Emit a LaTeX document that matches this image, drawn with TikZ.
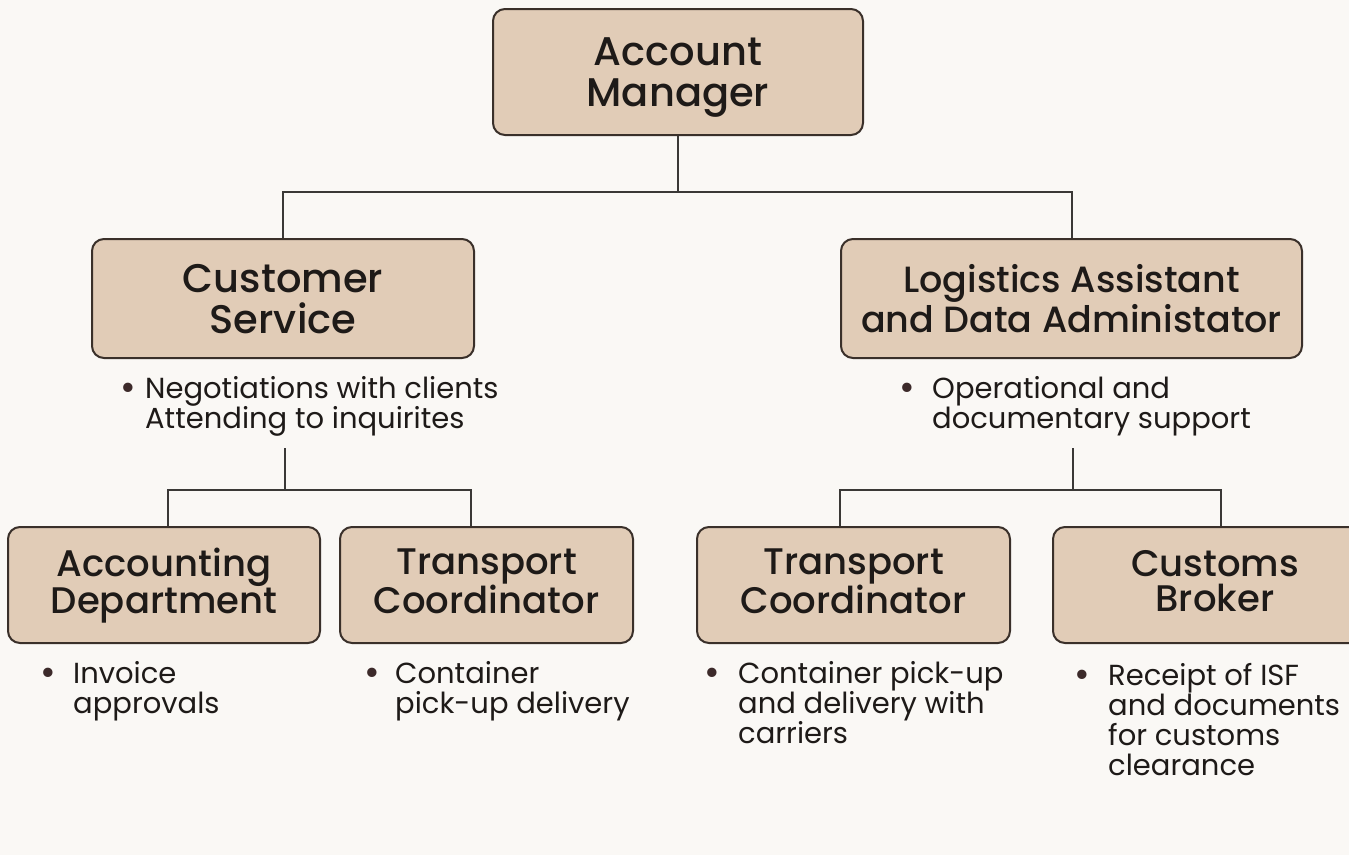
\documentclass[tikz,border=0pt]{standalone}
\usepackage{fontspec}
\setmainfont{Poppins}
\newfontfamily\headfont{Poppins}[UprightFont={* Medium}]
\definecolor{bgc}{RGB}{250,248,245}
\definecolor{boxfill}{RGB}{225,204,183}
\definecolor{boxline}{RGB}{58,48,42}
\definecolor{linkc}{RGB}{58,56,54}
\definecolor{ink}{RGB}{30,26,24}
\definecolor{dotc}{RGB}{60,42,42}
% bullet line: #1 = width of the bullet column, #2 = text
\newcommand\bulletdot{\raisebox{-2pt}{\fontsize{38}{30}\selectfont\textcolor{dotc}{•}}}
\newcommand\firstline[2]{\rule{0pt}{26pt}\makebox[#1][c]{\bulletdot}#2}
\newcommand\nextline[2]{\hspace*{#1}#2}
\begin{document}
\begin{tikzpicture}[x=1pt,y=-1pt,
  box/.style={draw=boxline, line width=2pt, fill=boxfill, rounded corners=12pt,
    align=center, text=ink, inner sep=0pt, text depth=0pt},
  headbox/.style={box, font=\headfont\fontsize{40}{41}\selectfont},
  subbox/.style={box, text depth=8pt, font=\headfont\fontsize{37}{35}\selectfont},
  note/.style={anchor=north west, align=left, inner sep=0pt, text=ink,
    font=\fontsize{29}{30}\selectfont},
  link/.style={draw=linkc, line width=2pt}]

% canvas
\fill[bgc] (0,0) rectangle (1349,855);
\useasboundingbox (0,0) rectangle (1349,855);
\clip (0,0) rectangle (1349,855);

% boxes
\node[headbox, minimum width=370pt, minimum height=126pt] (am) at (678,72) {Account\\Manager};
\node[headbox, minimum width=382pt, minimum height=119pt] (cs) at (283,298.5) {Customer\\Service};
\node[headbox, minimum width=461pt, minimum height=119pt,
  font=\headfont\fontsize{36.5}{40}\selectfont] (la) at (1071.5,298.5) {Logistics Assistant\\and Data Administator};
\node[subbox, minimum width=312pt, minimum height=116pt] (ad) at (164,585) {Accounting\\Department};
\node[subbox, minimum width=293pt, minimum height=116pt] (tca) at (486.5,585) {Transport\\Coordinator};
\node[subbox, minimum width=313pt, minimum height=116pt] (tcb) at (853.5,585) {Transport\\Coordinator};
\node[subbox, minimum width=324pt, minimum height=116pt] (cb) at (1215,585) {Customs\\Broker};

% duty notes
\node[note] (csn) at (111,372) {\firstline{34pt}{Negotiations with clients}\\\nextline{34pt}{Attending to inquirites}};
\node[note] (lan) at (882,372) {\firstline{50pt}{Operational and}\\\nextline{50pt}{documentary support}};
\node[note] (adn) at (23,657) {\firstline{50pt}{Invoice}\\\nextline{50pt}{approvals}};
\node[note] (tcan) at (349,657) {\firstline{46pt}{Container}\\\nextline{46pt}{pick-up delivery}};
\node[note] (tcbn) at (686,657) {\firstline{52pt}{Container pick-up}\\\nextline{52pt}{and delivery with}\\\nextline{52pt}{carriers}};
\node[note] (cbn) at (1056,659) {\firstline{52pt}{Receipt of ISF}\\\nextline{52pt}{and documents}\\\nextline{52pt}{for customs}\\\nextline{52pt}{clearance}};

% junction points
\coordinate (j0) at (678,192);
\coordinate (j1top) at (285,448);
\coordinate (j1) at (285,490);
\coordinate (j2top) at (1072.5,448);
\coordinate (j2) at (1072.5,490);

% connectors
\draw[link] (am.south) -- (j0);
\draw[link] (cs.north) |- (j0) -| (la.north);
\draw[link] (j1top) -- (j1);
\draw[link] ([xshift=4pt]ad.north) |- (j1) -| ([xshift=-16pt]tca.north);
\draw[link] (j2top) -- (j2);
\draw[link] ([xshift=-13.5pt]tcb.north) |- (j2) -| ([xshift=6pt]cb.north);
\end{tikzpicture}
\end{document}
